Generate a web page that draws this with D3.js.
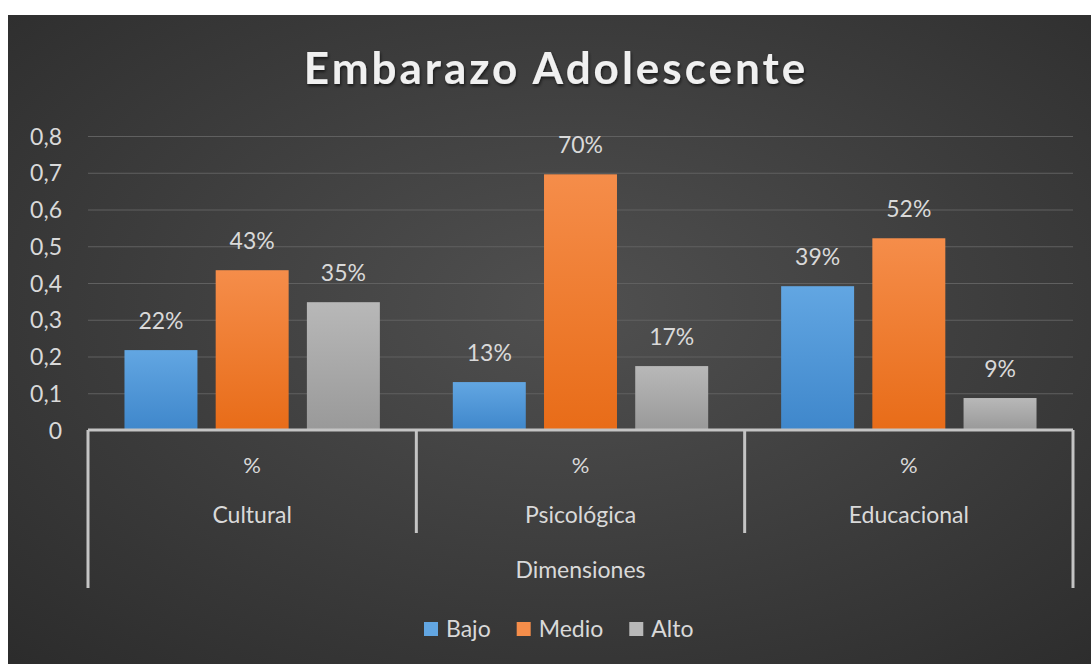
<!DOCTYPE html>
<html>
<head>
<meta charset="utf-8">
<script src="https://cdn.jsdelivr.net/npm/d3@7"></script>
<style>
  body { margin: 0; background: #fff; }
  svg { display: block; }
  text { font-family: Lato, "Open Sans", sans-serif; fill: #d9d9d9; }
</style>
</head>
<body>
<svg width="1091" height="664"></svg>
<script>
// data
var categories = ['Cultural', 'Psicológica', 'Educacional']
var series = ['Bajo', 'Medio', 'Alto']
var bajo = [0.2174, 0.1304, 0.3913]
var medio = [0.4348, 0.6957, 0.5217]
var alto = [0.3478, 0.1739, 0.0870]
var yTicks = [0, 0.1, 0.2, 0.3, 0.4, 0.5, 0.6, 0.7, 0.8]
var subLabel = '%'
var titleText = 'Embarazo Adolescente'
var axisTitle = 'Dimensiones'

var values = { Bajo: bajo, Medio: medio, Alto: alto }

var svg = d3.select('svg')
var defs = svg.append('defs')

// background gradient
var bg = defs.append('radialGradient').attr('id', 'bg')
    .attr('cx', '52%').attr('cy', '45%').attr('r', '75%')
bg.append('stop').attr('offset', '0%').attr('stop-color', '#505050')
bg.append('stop').attr('offset', '100%').attr('stop-color', '#2c2c2c')

// bar gradients
var barCols = {
    Bajo: ['#62a6e2', '#3f87cb'],
    Medio: ['#f58d4a', '#e86c18'],
    Alto: ['#b8b8b8', '#999999']
}
series.forEach(function(s){
    var g = defs.append('linearGradient').attr('id', 'g' + s)
        .attr('x1', 0).attr('y1', 0).attr('x2', 0).attr('y2', 1)
    g.append('stop').attr('offset', '0%').attr('stop-color', barCols[s][0])
    g.append('stop').attr('offset', '100%').attr('stop-color', barCols[s][1])
})

var shadow = defs.append('filter').attr('id', 'shadow')
shadow.append('feDropShadow').attr('dx', 1).attr('dy', 2)
    .attr('stdDeviation', 1.5).attr('flood-color', '#000').attr('flood-opacity', 0.6)

svg.append('rect')
    .attr('x', 8).attr('y', 15)
    .attr('width', 1083).attr('height', 649)
    .attr('fill', 'url(#bg)')

var left = 88, right = 1073, baseY = 430

var y = d3.scaleLinear().domain([0, 0.8]).range([baseY, 136])
var x0 = d3.scaleBand().domain(categories).range([left, right])
var x1 = d3.scaleBand().domain(series).range([0, x0.bandwidth()])
    .paddingInner(0.2).paddingOuter(0.4)

var comma = d3.formatLocale({ decimal: ',', thousands: '.', grouping: [3], currency: ['', ''] })

// gridlines
svg.append('g')
    .attr('transform', 'translate(' + left + ',0)')
    .call(d3.axisLeft(y).tickValues(yTicks.slice(1)).tickSize(-(right - left)).tickFormat(''))
    .call(function(g){ g.select('.domain').remove() })
    .selectAll('line')
    .attr('stroke', '#606060').attr('stroke-width', 1)

// y tick labels
var yAxis = svg.append('g')
    .attr('transform', 'translate(' + left + ',0)')
    .call(d3.axisLeft(y).tickValues(yTicks).tickSize(0).tickPadding(26)
        .tickFormat(function(d){ return d === 0 ? '0' : comma.format('.1f')(d) }))
yAxis.select('.domain').remove()
yAxis.selectAll('text')
    .style('font-size', '23px').attr('fill', '#d9d9d9').attr('dy', '0.35em')

// bars
var groups = svg.append('g').selectAll('g')
    .data(categories)
    .join('g')
    .attr('transform', function(d){ return 'translate(' + x0(d) + ',0)' })

groups.selectAll('rect')
    .data(function(d, i){ return series.map(function(s){ return { s: s, v: values[s][i] } }) })
    .join('rect')
    .attr('x', function(d){ return x1(d.s) })
    .attr('y', function(d){ return y(d.v) })
    .attr('width', x1.bandwidth())
    .attr('height', function(d){ return baseY - y(d.v) })
    .attr('fill', function(d){ return 'url(#g' + d.s + ')' })

groups.selectAll('text.lab')
    .data(function(d, i){ return series.map(function(s){ return { s: s, v: values[s][i] } }) })
    .join('text')
    .attr('class', 'lab')
    .attr('x', function(d){ return x1(d.s) + x1.bandwidth() / 2 })
    .attr('y', function(d){ return y(d.v) - 21 })
    .attr('text-anchor', 'middle')
    .style('font-size', '23px')
    .text(function(d){ return d3.format('.0%')(d.v) })

// category axis lines
var lineCol = '#c4c4c4'
svg.append('line')
    .attr('x1', left).attr('x2', right).attr('y1', baseY).attr('y2', baseY)
    .attr('stroke', lineCol).attr('stroke-width', 3)

var bounds = categories.map(function(c){ return x0(c) }).concat([right])
svg.selectAll('line.sep')
    .data(bounds)
    .join('line')
    .attr('class', 'sep')
    .attr('x1', function(d){ return d }).attr('x2', function(d){ return d })
    .attr('y1', baseY)
    .attr('y2', function(d, i){ return (i === 0 || i === bounds.length - 1) ? 588 : 533 })
    .attr('stroke', lineCol).attr('stroke-width', 3)

// category labels
svg.selectAll('text.sub')
    .data(categories)
    .join('text')
    .attr('class', 'sub')
    .attr('x', function(d){ return x0(d) + x0.bandwidth() / 2 })
    .attr('y', 473)
    .attr('text-anchor', 'middle')
    .style('font-size', '22px')
    .text(subLabel)

svg.selectAll('text.cat')
    .data(categories)
    .join('text')
    .attr('class', 'cat')
    .attr('x', function(d){ return x0(d) + x0.bandwidth() / 2 })
    .attr('y', 523)
    .attr('text-anchor', 'middle')
    .style('font-size', '23px')
    .text(function(d){ return d })

svg.append('text')
    .attr('x', (left + right) / 2)
    .attr('y', 578)
    .attr('text-anchor', 'middle')
    .style('font-size', '23px')
    .text(axisTitle)

// title
svg.append('text')
    .attr('x', 556)
    .attr('y', 84)
    .attr('text-anchor', 'middle')
    .attr('filter', 'url(#shadow)')
    .style('font-size', '44px')
    .style('font-weight', 'bold')
    .style('letter-spacing', '3px')
    .style('fill', '#f0f0f0')
    .text(titleText)

// legend
var legend = svg.append('g').attr('transform', 'translate(0,629)')
var lx = 424
series.forEach(function(s){
    var item = legend.append('g').attr('transform', 'translate(' + lx + ',0)')
    item.append('rect')
        .attr('x', 0).attr('y', -7).attr('width', 14).attr('height', 14)
        .attr('fill', barCols[s][0])
    var t = item.append('text')
        .attr('x', 22).attr('y', 0).attr('dy', '0.35em')
        .style('font-size', '23px')
        .text(s)
    lx += 22 + t.node().getComputedTextLength() + 26
})
</script>
</body>
</html>
